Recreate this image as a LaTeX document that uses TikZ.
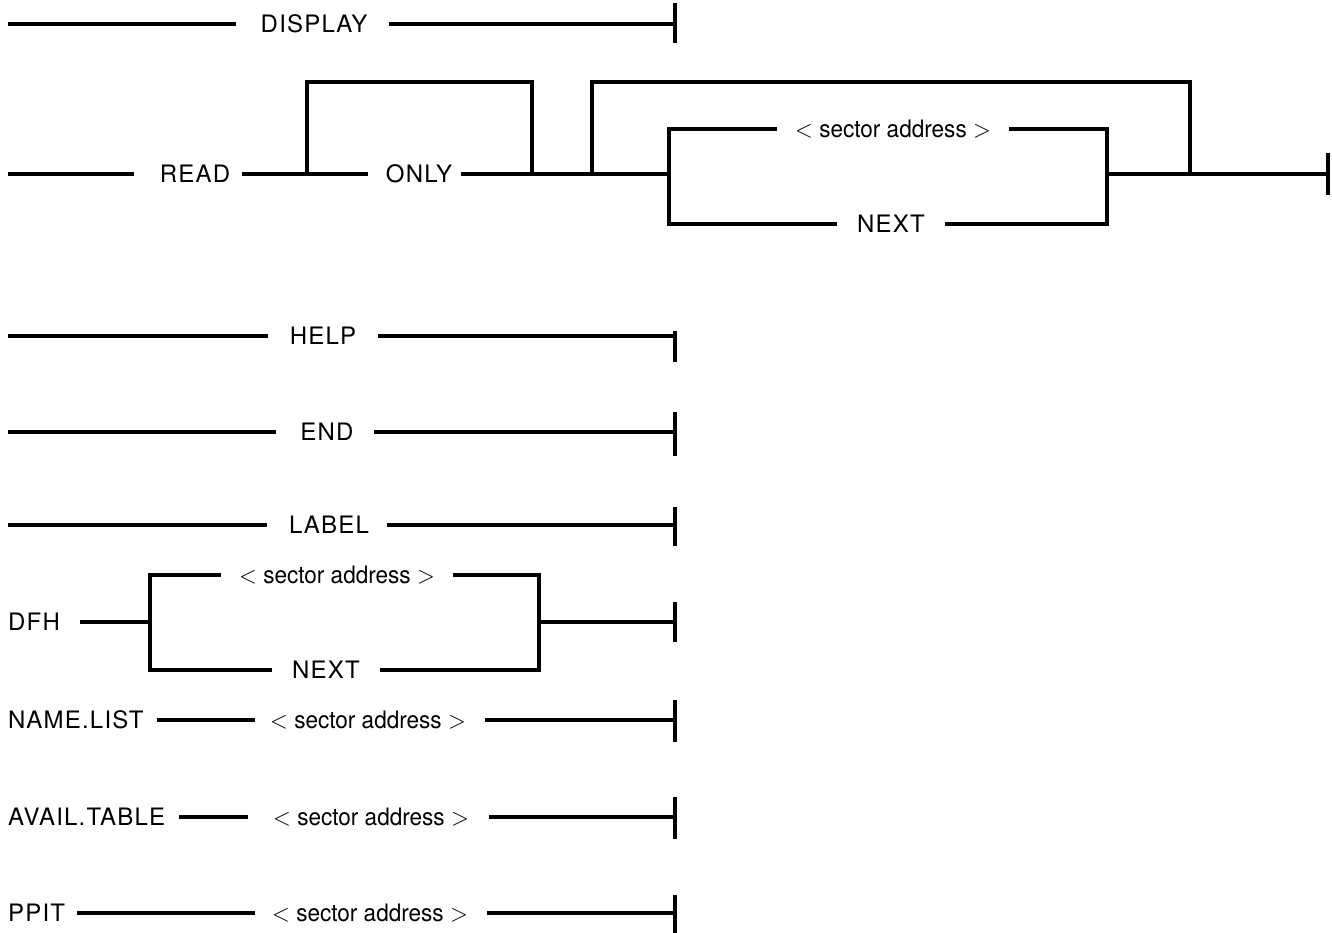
\documentclass[tikz,border=0pt]{standalone}
\usepackage{graphicx}
\usepackage{fontspec}
\setmainfont{TeX Gyre Heros}[LetterSpace=5]
\newfontfamily\safont{TeX Gyre Heros}
\newcommand{\saddrtext}{\safont\scalebox{0.94}[1]{$<$ sector address $>$}}
\begin{document}
\begin{tikzpicture}[x=1pt,y=-1pt,
  ln/.style={line width=3.2pt},
  lbl/.style={font=\fontsize{24}{28}\selectfont, inner sep=0pt, text height=17pt, text depth=0pt},
  lft/.style={lbl, anchor=west},
  endbar/.style={line width=3.2pt}]
\useasboundingbox (0,0) rectangle (1332,932);
\fill[white] (0,0) rectangle (1332,932);

% DISPLAY
\coordinate (d0) at (8,24);
\node[lbl] (display) at (314,24) {DISPLAY};
\coordinate (d1) at (675,24);
\draw[ln] (d0) -- ([xshift=-25pt]display.west);
\draw[ln] ([xshift=22pt]display.east) -- (d1);
\draw[endbar] ([yshift=-19pt]d1) -- ([yshift=21pt]d1);

% READ row
\coordinate (r0) at (8,174);
\node[lbl] (read) at (195,174) {READ};
\coordinate (j1) at (307,174);
\node[lbl] (only) at (419,174) {ONLY};
\coordinate (j2) at (532,174);
\coordinate (j3) at (592,174);
\coordinate (b1) at (669,174);
\coordinate (b2) at (1107,174);
\coordinate (j4) at (1190,174);
\coordinate (rend) at (1328,174);
\node[lbl] (saddr1) at (893,129) {\saddrtext};
\node[lbl] (next1) at (891,224) {NEXT};
\draw[ln] (r0) -- ([xshift=-26pt]read.west);
\draw[ln] ([xshift=12pt]read.east) -- ([xshift=-18pt]only.west);
\draw[ln] ([xshift=9pt]only.east) -- (b1);
\draw[ln] (b2) -- (rend);
\draw[ln] (j1) -- ++(0,-92) -| (j2);
\draw[ln] (j3) -- ++(0,-92) -| (j4);
\draw[ln] ([xshift=-18pt]saddr1.west) -| (b1) |- ([xshift=-20pt]next1.west);
\draw[ln] ([xshift=18pt]saddr1.east) -| (b2) |- ([xshift=20pt]next1.east);
\draw[endbar] ([yshift=-21pt]rend) -- ([yshift=21pt]rend);

% HELP
\coordinate (h0) at (8,336);
\node[lbl] (help) at (323,336) {HELP};
\coordinate (h1) at (675,336);
\draw[ln] (h0) -- ([xshift=-22pt]help.west);
\draw[ln] ([xshift=22pt]help.east) -- (h1);
\draw[endbar] ([yshift=-26pt]h1) -- ([yshift=5pt]h1);

% END
\coordinate (e0) at (8,432);
\node[lbl] (endw) at (327,432) {END};
\coordinate (e1) at (675,432);
\draw[ln] (e0) -- ([xshift=-24pt]endw.west);
\draw[ln] ([xshift=20pt]endw.east) -- (e1);
\draw[endbar] ([yshift=-24pt]e1) -- ([yshift=20pt]e1);

% LABEL
\coordinate (l0) at (8,525);
\node[lbl] (label) at (329,525) {LABEL};
\coordinate (l1) at (675,525);
\draw[ln] (l0) -- ([xshift=-22pt]label.west);
\draw[ln] ([xshift=18pt]label.east) -- (l1);
\draw[endbar] ([yshift=-21pt]l1) -- ([yshift=18pt]l1);

% DFH
\node[lft] (dfh) at (8,622) {DFH};
\coordinate (f1) at (150,622);
\coordinate (f2) at (539,622);
\coordinate (f3) at (675,622);
\node[lbl] (saddr2) at (337,575) {\saddrtext};
\node[lbl] (next2) at (326,670) {NEXT};
\draw[ln] ([xshift=20pt]dfh.east) -- (f1);
\draw[ln] ([xshift=-18pt]saddr2.west) -| (f1) |- ([xshift=-20pt]next2.west);
\draw[ln] ([xshift=18pt]saddr2.east) -| (f2) |- ([xshift=20pt]next2.east);
\draw[ln] (f2) -- (f3);
\draw[endbar] ([yshift=-20pt]f3) -- ([yshift=20pt]f3);

% NAME.LIST
\node[lft] (namelist) at (8,720) {NAME.LIST};
\node[lbl] (saddr3) at (368,720) {\saddrtext};
\coordinate (n1) at (675,720);
\draw[ln] ([xshift=13pt]namelist.east) -- ([xshift=-15pt]saddr3.west);
\draw[ln] ([xshift=19pt]saddr3.east) -- (n1);
\draw[endbar] ([yshift=-22pt]n1) -- ([yshift=20pt]n1);

% AVAIL.TABLE
\node[lft] (avail) at (8,817) {AVAIL.TABLE};
\node[lbl] (saddr4) at (371,817) {\saddrtext};
\coordinate (a1) at (675,817);
\draw[ln] ([xshift=14pt]avail.east) -- ([xshift=-25pt]saddr4.west);
\draw[ln] ([xshift=20pt]saddr4.east) -- (a1);
\draw[endbar] ([yshift=-22pt]a1) -- ([yshift=20pt]a1);

% PPIT
\node[lft] (ppit) at (8,913) {PPIT};
\node[lbl] (saddr5) at (370,913) {\saddrtext};
\coordinate (p1) at (675,913);
\draw[ln] ([xshift=12pt]ppit.east) -- ([xshift=-17pt]saddr5.west);
\draw[ln] ([xshift=19pt]saddr5.east) -- (p1);
\draw[endbar] ([yshift=-20pt]p1) -- ([yshift=18pt]p1);
\end{tikzpicture}
\end{document}
